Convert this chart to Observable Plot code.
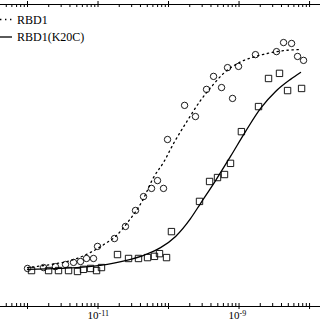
<!DOCTYPE html>
<html><head><meta charset="utf-8">
<script src="https://cdn.jsdelivr.net/npm/d3@7"></script>
<script src="https://cdn.jsdelivr.net/npm/@observablehq/plot@0.6"></script>
<style>body{margin:0;background:#fff}#chart{width:320px;height:320px;overflow:hidden}</style>
</head><body><div id="chart"></div>
<script>
// RBD1 measured points (circles)
const rbd1Conc = [1.00e-12,1.69e-12,2.49e-12,3.46e-12,4.49e-12,5.65e-12,6.87e-12,8.63e-12,9.84e-12,1.71e-11,2.45e-11,3.40e-11,4.42e-11,5.74e-11,6.98e-11,8.49e-11,9.68e-11,1.69e-10,2.41e-10,3.46e-10,4.35e-10,5.65e-10,6.87e-10,8.09e-10,9.84e-10,1.71e-9,3.40e-9,4.28e-9,5.56e-9,6.76e-9,8.22e-9];
const rbd1Signal = [12.6,12.9,13.2,13.9,14.6,14.9,15.9,15.9,19.9,22.5,26.5,31.8,36.4,39.1,41.7,39.1,55.3,66.6,62.9,71.9,76.2,72.5,79.1,68.9,79.5,83.4,84.4,87.4,87.1,82.8,81.5];
// RBD1(K20C) measured points (squares)
const k20cConc = [1.14e-12,1.99e-12,2.75e-12,3.82e-12,5.12e-12,6.22e-12,7.83e-12,9.53e-12,1.12e-11,1.89e-11,2.71e-11,3.75e-11,5.04e-11,6.32e-11,7.45e-11,9.37e-11,1.10e-10,2.75e-10,3.82e-10,4.95e-10,6.22e-10,7.57e-10,1.08e-9,1.89e-9,2.62e-9,3.75e-9,4.88e-9,7.71e-9];
const k20cSignal = [11.9,11.9,11.9,11.9,11.6,12.3,12.6,11.9,12.9,17.2,15.9,15.9,16.2,16.6,17.5,16.2,24.8,34.8,41.4,42.7,43.7,47.4,57.9,66.2,75.5,77.2,71.5,72.2];
// fitted curves
const rbd1FitConc = [1.00e-12,2.12e-12,4.07e-12,7.83e-12,1.28e-11,1.77e-11,2.62e-11,4.28e-11,6.12e-11,8.49e-11,1.18e-10,1.86e-10,2.84e-10,4.21e-10,6.03e-10,9.53e-10,1.55e-9,2.54e-9,4.57e-9,7.45e-9];
const rbd1FitSignal = [12.9,13.9,15.2,17.9,20.9,23.2,27.8,35.1,42.7,47.7,54.0,61.6,68.2,73.2,77.2,80.5,82.5,83.8,84.8,85.1];
const k20cFitConc = [1.00e-12,2.94e-12,1.08e-11,2.45e-11,4.72e-11,7.71e-11,1.26e-10,2.05e-10,2.84e-10,4.65e-10,7.57e-10,1.24e-9,2.02e-9,3.30e-9,5.37e-9,7.45e-9];
const k20cFitSignal = [12.3,12.6,13.6,15.2,17.2,19.5,23.2,29.1,34.1,41.7,49.7,58.0,65.6,71.2,75.2,77.5];
// axes
const majorTicks = [1e-12,1e-11,1e-10,1e-9,1e-8];
const labelTicks = [1e-11,1e-9];
const labelBase = ["10","10"];
const labelExp = ["-11","-9"];
const seriesNames = ["RBD1","RBD1(K20C)"];
const xDomain = [4.14e-13, 1.43e-8];
const yDomain = [0, 100];

const W = 320, H = 320, MT = 4, MB = 14;
const inner = H - MT - MB;
const minorTicks = [];
for (let e = -13; e <= -8; e++) for (let m = 2; m <= 9; m++) {
  const v = m * Math.pow(10, e);
  if (v > xDomain[0] && v < xDomain[1]) minorTicks.push(v);
}
const rbd1 = rbd1Conc.map((c,i)=>({c, s: rbd1Signal[i]}));
const k20c = k20cConc.map((c,i)=>({c, s: k20cSignal[i]}));
const rbd1Fit = rbd1FitConc.map((c,i)=>({c, s: rbd1FitSignal[i]}));
const k20cFit = k20cFitConc.map((c,i)=>({c, s: k20cFitSignal[i]}));
const labels = labelTicks.map((v,i)=>({v, b: labelBase[i], e: labelExp[i]}));
const font = "Liberation Serif, Times New Roman, serif";

const chart = Plot.plot({
  width: W, height: H,
  marginLeft: 0, marginRight: 0, marginTop: MT, marginBottom: MB,
  style: {fontFamily: font, background: "#fff", color: "#000"},
  x: {type: "log", domain: xDomain, axis: null},
  y: {domain: yDomain, axis: null},
  marks: [
    Plot.ruleY(yDomain, {stroke: "#000", strokeWidth: 1}),
    // bottom axis ticks
    Plot.ruleX(majorTicks, {x: d => d, insetTop: inner - 3, insetBottom: -3, stroke: "#000"}),
    Plot.ruleX(minorTicks, {x: d => d, insetTop: inner - 3, insetBottom: 0, stroke: "#000"}),
    // top axis ticks
    Plot.ruleX(majorTicks, {x: d => d, insetTop: -3, insetBottom: inner - 3, stroke: "#000"}),
    Plot.ruleX(minorTicks, {x: d => d, insetTop: 0, insetBottom: inner - 3, stroke: "#000"}),
    Plot.text(labels, {x: "v", text: "b", frameAnchor: "bottom", lineAnchor: "top", dy: 5, dx: 0.5, fontSize: 11, fill: "#000", textAnchor: "end"}),
    Plot.text(labels, {x: "v", text: "e", frameAnchor: "bottom", lineAnchor: "top", dy: 4, dx: 0.5, fontSize: 8, fill: "#000", textAnchor: "start"}),
    Plot.line(rbd1Fit, {x: "c", y: "s", curve: "monotone-x", stroke: "#000", strokeWidth: 1.3, strokeDasharray: "1.4,3.6"}),
    Plot.line(k20cFit, {x: "c", y: "s", curve: "monotone-x", stroke: "#000", strokeWidth: 1.3}),
    Plot.dot(rbd1, {x: "c", y: "s", r: 3.2, stroke: "#000", strokeWidth: 0.9, fill: "none"}),
    Plot.dot(k20c, {x: "c", y: "s", r: 3.6, symbol: "square", stroke: "#000", strokeWidth: 0.9, fill: "none"})
  ]
});
// legend
const svg = d3.select(chart);
const leg = svg.append("g").attr("font-family", font).attr("font-size", 12).attr("text-anchor", "start");
const legY = [19.5, 37];
const dashes = ["1.4,3.6", null];
seriesNames.forEach((name, i) => {
  leg.append("line").attr("x1", 0).attr("x2", 12).attr("y1", legY[i]).attr("y2", legY[i])
    .attr("stroke", "#000").attr("stroke-width", 1.3).attr("stroke-dasharray", dashes[i]);
  leg.append("text").attr("x", 17).attr("y", legY[i]).attr("dy", "0.35em").attr("fill", "#000").text(name);
});
document.getElementById("chart").appendChild(chart);
</script>
</body></html>
